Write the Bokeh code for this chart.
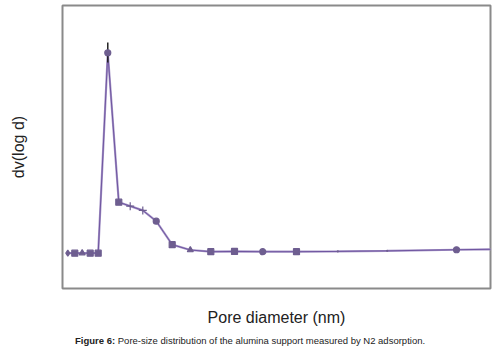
from bokeh.plotting import figure
from bokeh.models import Range1d, FixedTicker, Div
from bokeh.layouts import column
from bokeh.embed import file_html
from bokeh.resources import INLINE

# Pore diameter (arbitrary axis units) and dv(log d)
diam = [1.24, 2.87, 4.60, 6.47, 8.34, 10.58, 13.15, 15.82, 18.76, 21.90,
        25.63, 29.86, 34.65, 40.19, 46.80, 54.67, 64.32, 75.86, 92.06, 102.3]
dvlogd = [0.125, 0.125, 0.125, 0.125, 0.125, 0.833, 0.305, 0.291, 0.276, 0.238,
          0.155, 0.136, 0.130, 0.131, 0.130, 0.130, 0.131, 0.133, 0.137, 0.139]
markers = ["diamond", "square", "triangle", "square", "square", "circle", "square",
           "cross", "cross", "circle", "square", "triangle", "square", "square",
           "circle", "square", "dot", "dot", "circle", None]
# error bar on the peak point
err_x = [10.58]
err_lo = [0.799]
err_hi = [0.869]

caption_bold = "Figure 6:"
caption_text = "Pore-size distribution of the alumina support measured by N2 adsorption."

p = figure(width=500, height=332, output_backend="svg", toolbar_location=None,
           x_range=Range1d(0, 100), y_range=Range1d(0, 1),
           min_border_left=62, min_border_right=10, min_border_top=5,
           min_border_bottom=44)
p.grid.visible = False
p.background_fill_color = "white"
p.border_fill_color = "white"
p.outline_line_color = "#8a8a8a"
p.outline_line_width = 2

for ax in (p.xaxis[0], p.yaxis[0]):
    ax.ticker = FixedTicker(ticks=[])
    ax.major_tick_line_color = None
    ax.minor_tick_line_color = None
    ax.axis_line_color = None
    ax.axis_label_text_font = "Liberation Sans"
    ax.axis_label_text_font_size = "16px"
    ax.axis_label_text_font_style = "normal"
    ax.axis_label_text_color = "#222222"

p.xaxis.axis_label = "Pore diameter (nm)"
p.xaxis.axis_label_standoff = 20
p.yaxis.axis_label = "dv(log d)"
p.yaxis.axis_label_standoff = 36

p.line(diam, dvlogd, line_color="#a898c8", line_width=2.2)
p.line(diam, dvlogd, line_color="#6f55a0", line_width=1)
p.segment(err_x, err_lo, err_x, err_hi, line_color="#222222", line_width=1.5)

mcol = "#6e5e90"
for xv, yv, m in zip(diam, dvlogd, markers):
    if m is None:
        continue
    size = 6
    if m == "cross":
        size = 8
    if m == "dot":
        size = 9
    p.scatter([xv], [yv], marker=m, size=size, fill_color=mcol,
              line_color=mcol, line_width=1.2)

cap = Div(text=f"<b>{caption_bold}</b> {caption_text}", width=500, height=20,
          margin=(0, 0, 0, 0),
          styles={"font-family": "'Liberation Sans', Arial, sans-serif",
                  "font-size": "9.5px", "color": "#222222",
                  "padding-left": "75px", "padding-top": "3px",
                  "line-height": "12px", "white-space": "nowrap"})

layout = column(p, cap, spacing=0)
open("out.html", "w").write(file_html(layout, INLINE))
